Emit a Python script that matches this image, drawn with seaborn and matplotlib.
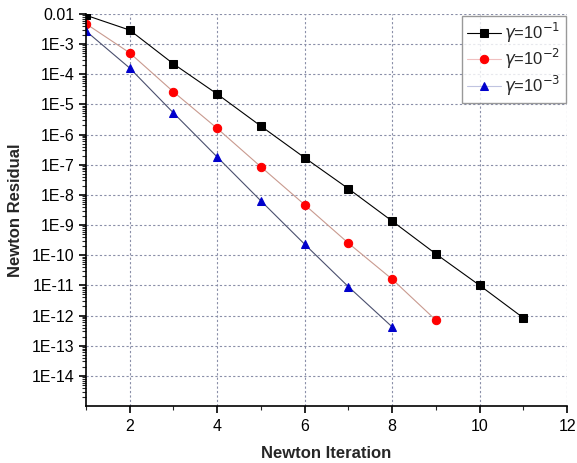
import numpy as np
import pandas as pd
import matplotlib
matplotlib.use("Agg")
import matplotlib.pyplot as plt
import matplotlib.ticker as mticker
import seaborn as sns

# Newton residuals
iter_g1 = [1, 2, 3, 4, 5, 6, 7, 8, 9, 10, 11]
res_g1 = [9e-3, 2.9e-3, 2.2e-4, 2.2e-5, 1.9e-6, 1.7e-7, 1.6e-8, 1.35e-9, 1.1e-10, 1.0e-11, 8.3e-13]

iter_g2 = [1, 2, 3, 4, 5, 6, 7, 8, 9]
res_g2 = [4.7e-3, 5.1e-4, 2.6e-5, 1.6e-6, 8.5e-8, 4.7e-9, 2.5e-10, 1.6e-11, 7.0e-13]

iter_g3 = [1, 2, 3, 4, 5, 6, 7, 8]
res_g3 = [2.7e-3, 1.6e-4, 5.2e-6, 1.8e-7, 6.3e-9, 2.3e-10, 9.0e-12, 4.2e-13]

labels = [r"$\gamma$=10$^{-1}$", r"$\gamma$=10$^{-2}$", r"$\gamma$=10$^{-3}$"]
ytick_vals = [1e-2, 1e-3, 1e-4, 1e-5, 1e-6, 1e-7, 1e-8, 1e-9, 1e-10, 1e-11, 1e-12, 1e-13, 1e-14]
ytick_labels = ["0.01", "1E-3", "1E-4", "1E-5", "1E-6", "1E-7", "1E-8", "1E-9",
                "1E-10", "1E-11", "1E-12", "1E-13", "1E-14"]

sns.set_style("white")
plt.rcParams["font.family"] = ["Liberation Sans", "DejaVu Sans"]

fig = plt.figure(figsize=(5.77, 4.63), dpi=100)
ax = fig.add_axes([0.149, 0.123, 0.834, 0.847])

series = [
    (iter_g1, res_g1, "s", "black", "black"),
    (iter_g2, res_g2, "o", "red", "#c99a8f"),
    (iter_g3, res_g3, "^", "#0000cc", "#4a4f6e"),
]
for (xs, ys, mk, mc, lc), lab in zip(series, labels):
    sns.lineplot(x=xs, y=ys, ax=ax, color=lc, lw=0.8, marker=mk, markersize=6,
                 markerfacecolor=mc, markeredgecolor=mc, label=lab)

ax.set_yscale("log")
ax.set_xlim(1, 12)
ax.set_ylim(1e-15, 1e-2)
ax.set_xticks([2, 4, 6, 8, 10, 12])
ax.xaxis.set_minor_locator(mticker.MultipleLocator(1))
ax.set_yticks(ytick_vals)
ax.set_yticklabels(ytick_labels)
ax.yaxis.set_minor_locator(mticker.LogLocator(base=10, subs=np.arange(2, 10), numticks=30))
ax.yaxis.set_minor_formatter(mticker.NullFormatter())

ax.grid(True, which="major", ls=(0, (2, 2)), color="#8a8fa8", lw=0.8)
for s in ["top", "right"]:
    ax.spines[s].set_visible(False)
for s in ["left", "bottom"]:
    ax.spines[s].set_color("black")
    ax.spines[s].set_linewidth(1.2)

ax.tick_params(axis="both", which="major", direction="out", length=5, width=1.2,
               labelsize=11.5, colors="black", left=True, bottom=True)
ax.tick_params(axis="both", which="minor", direction="out", length=3, width=0.8,
               left=True, bottom=True)
ax.tick_params(axis="x", pad=4)

ax.set_xlabel("Newton Iteration", fontsize=12, fontweight="bold", labelpad=9)
ax.set_ylabel("Newton Residual", fontsize=12, fontweight="bold", labelpad=6)

leg = ax.legend(loc="upper right", fontsize=12, frameon=True, fancybox=False,
                edgecolor="#808080", borderaxespad=0.1, handlelength=2.0,
                labelspacing=0.15, borderpad=0.3, handletextpad=0.2)
leg.get_frame().set_linewidth(1.0)
leg.get_lines()[1].set_color("#f0c0c0")
leg.get_lines()[2].set_color("#c0c4e0")

fig.savefig("out.png", dpi=100)
